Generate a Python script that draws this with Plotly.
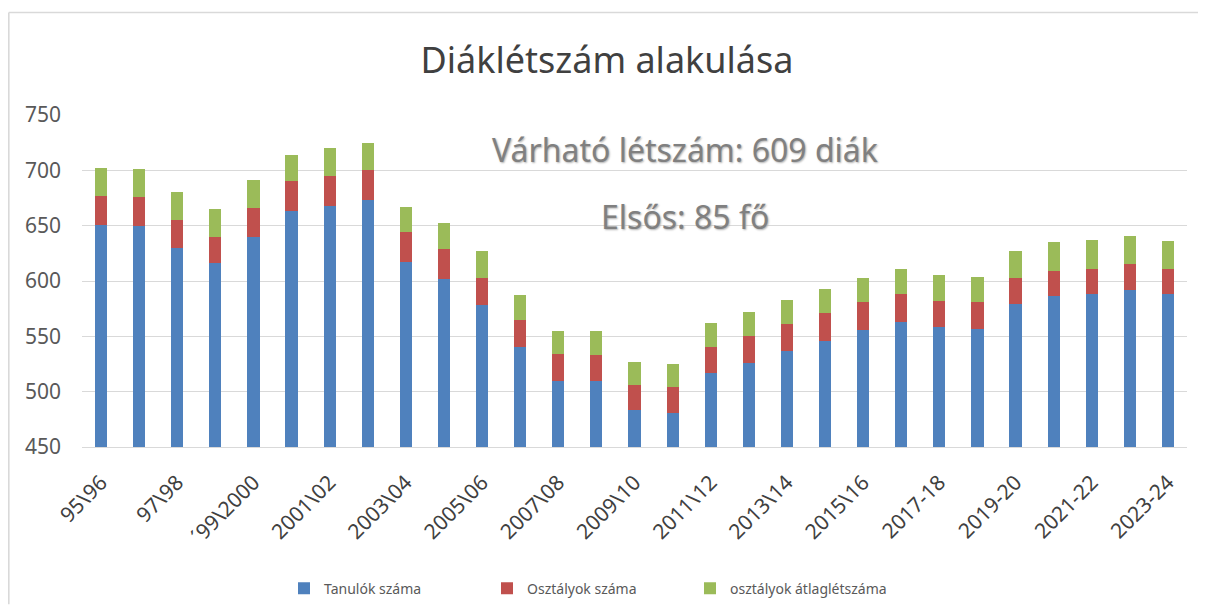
import plotly.graph_objects as go

# school years (29 categories, every other one labelled on the axis)
years = [
    "95\\96", "96\\97", "97\\98", "98\\99", "'99\\2000", "2000\\01", "2001\\02", "2002\\03",
    "2003\\04", "2004\\05", "2005\\06", "2006\\07", "2007\\08", "2008\\09", "2009\\10",
    "2010\\11", "2011\\12", "2012\\13", "2013\\14", "2014\\15", "2015\\16", "2016-17",
    "2017-18", "2018-19", "2019-20", "2020-21", "2021-22", "2022-23", "2023-24",
]
tick_labels = years[::2]
tick_labels[2] = "\u00b499\\2000"

tanulok = [651, 650, 630, 616, 640, 663, 668, 673, 617, 602, 578, 540, 510, 510, 483,
           481, 517, 526, 537, 546, 556, 563, 558, 557, 579, 586, 588, 592, 588]
osztalyok = [26, 26, 25, 24, 26, 27, 27, 27, 27, 27, 25, 25, 24, 23, 23,
             23, 23, 24, 24, 25, 25, 25, 24, 24, 24, 23, 23, 23, 23]
atlag = [25, 25, 25, 25, 25, 24, 25, 25, 23, 23, 24, 22, 21, 22, 21,
         21, 22, 22, 22, 22, 22, 23, 23, 23, 24, 26, 26, 26, 25]

FONT = "Noto Sans"
TEXT_GRAY = "#595959"

# page body has an 8px margin, so the figure is a bit smaller than the window
W, H = 1198, 608
L, R, T, B = 74, 19, 107, 161
PW, PH = W - L - R, H - T - B

fig = go.Figure()
fig.add_trace(go.Bar(x=years, y=tanulok, name="Tanulók száma",
                     marker=dict(color="#4F81BD", line=dict(width=0))))
fig.add_trace(go.Bar(x=years, y=osztalyok, name="Osztályok száma",
                     marker=dict(color="#C0504D", line=dict(width=0))))
fig.add_trace(go.Bar(x=years, y=atlag, name="osztályok átlaglétszáma",
                     marker=dict(color="#9BBB59", line=dict(width=0))))

note_font = dict(family=FONT, size=32, color="#808080", shadow="1px 1px 2px #b0b0b0")

fig.update_layout(
    width=W,
    height=H,
    barmode="stack",
    bargap=0.68,
    paper_bgcolor="white",
    plot_bgcolor="white",
    margin=dict(l=L, r=R, t=T, b=B),
    font=dict(family=FONT, color=TEXT_GRAY),
    title=dict(text="Diáklétszám alakulása", x=0.5, xanchor="center",
               y=1 - 52 / H, yanchor="middle",
               font=dict(family=FONT, size=36, color="#404040")),
    legend=dict(orientation="h", x=(276 - L) / PW, xanchor="left",
                y=-(592 - (T + PH)) / PH, yanchor="middle",
                font=dict(size=14, color=TEXT_GRAY), entrywidth=158,
                traceorder="normal"),
    xaxis=dict(
        tickmode="array", tickvals=years[::2], ticktext=tick_labels,
        tickangle=-45, tickfont=dict(size=21, color="#404040"),
        showgrid=False, showline=True, linecolor="#d9d9d9", ticks="",
        ticklabelstandoff=14, automargin=False,
    ),
    yaxis=dict(
        range=[450, 750], dtick=50, tick0=450,
        tickfont=dict(size=21, color=TEXT_GRAY),
        gridcolor="#d9d9d9", gridwidth=1, zeroline=False, showline=False,
        ticklabelstandoff=20, automargin=False,
    ),
    annotations=[
        dict(text="Várható létszám: 609 diák", xref="paper", yref="paper",
             x=0.546, y=0.896, xanchor="center", yanchor="middle",
             showarrow=False, font=note_font),
        dict(text="Elsős: 85 fő", xref="paper", yref="paper",
             x=0.546, y=0.695, xanchor="center", yanchor="middle",
             showarrow=False, font=note_font),
    ],
    shapes=[
        # chart-area border: only the left and top edges are inside the picture
        dict(type="line", xref="paper", yref="paper",
             x0=(0.8 - L) / PW, x1=(0.8 - L) / PW, y0=-(H - T - PH) / PH, y1=(T - 2) / PH + 1,
             line=dict(color="#d9d9d9", width=1.6)),
        dict(type="line", xref="paper", yref="paper",
             x0=(0.8 - L) / PW, x1=(W - L) / PW, y0=(T - 2) / PH + 1, y1=(T - 2) / PH + 1,
             line=dict(color="#d9d9d9", width=1.6)),
    ],
)

fig.write_html("out.html")
